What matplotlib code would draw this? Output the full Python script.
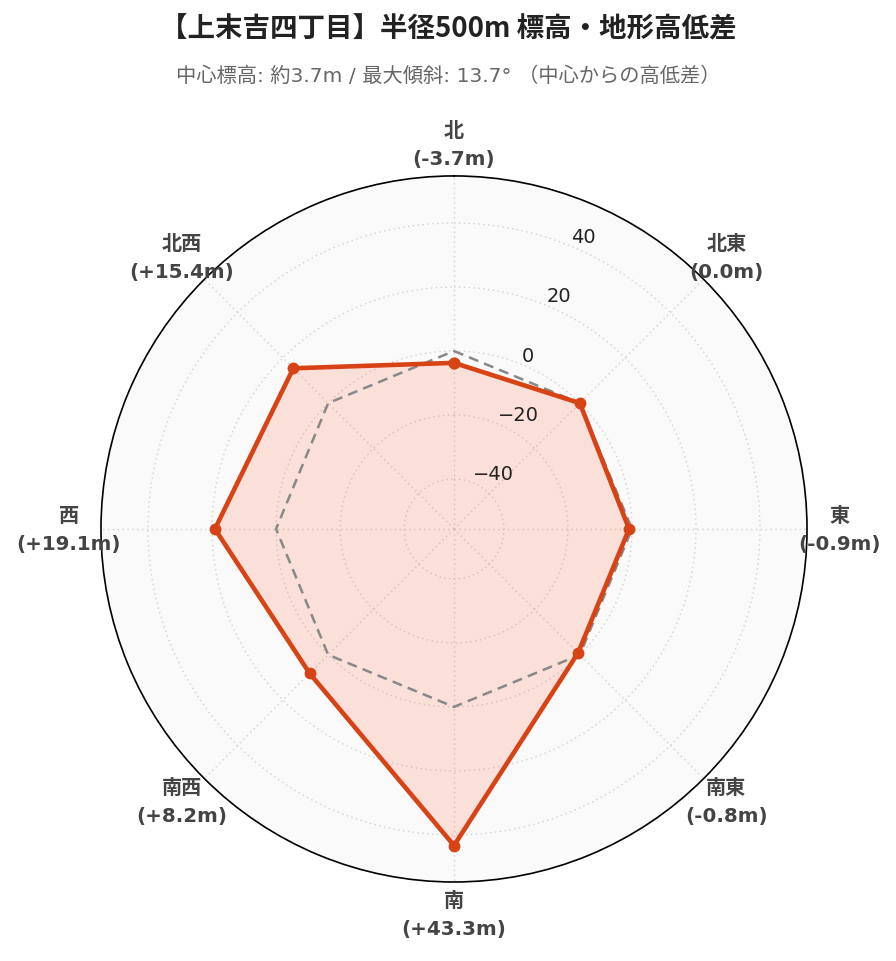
import numpy as np
import matplotlib
matplotlib.use("Agg")
import matplotlib.pyplot as plt

plt.rcParams['font.family'] = ['DejaVu Sans', 'Noto Sans CJK JP']

directions = ['北', '北東', '東', '南東', '南', '南西', '西', '北西']
diffs = [-3.7, 0.0, -0.9, -0.8, 43.3, 8.2, 19.1, 15.4]
baseline = [0, 0, 0, 0, 0, 0, 0, 0]
r_ticks = [-40, -20, 0, 20, 40]
r_range = (-55.6, 54.7)

title = '【上末吉四丁目】半径500m 標高・地形高低差'
subtitle = '中心標高: 約3.7m / 最大傾斜: 13.7° （中心からの高低差）'

line_color = '#d84315'
fill_color = '#ff501e'

fig = plt.figure(figsize=(8.96, 9.62), dpi=100)
ax = fig.add_axes([0.1127, 0.0821, 0.788, 0.734], projection='polar')
ax.set_theta_zero_location('N')
ax.set_theta_direction(-1)
ax.set_facecolor('#fafafa')
ax.set_ylim(*r_range)

theta = np.deg2rad(np.arange(len(directions)) * 45.0)
th_c = np.append(theta, theta[0])
d_c = np.append(diffs, diffs[0])
b_c = np.append(baseline, baseline[0])

ax.plot(th_c, b_c, color='#888888', lw=1.8, ls=(0, (4, 2.5)), zorder=3)
ax.fill(th_c, d_c, color=fill_color, alpha=0.15, lw=0, zorder=2)
ax.plot(th_c, d_c, color=line_color, lw=3.3, marker='o', ms=7.5, zorder=4)

ax.set_xticks(theta)
ax.set_xticklabels([])
ax.set_yticks(r_ticks)
ax.set_yticklabels([])
ax.grid(True, color='#d0d0d0', ls=(0, (1, 2.5)), lw=1)
ax.spines['polar'].set_color('black')
ax.spines['polar'].set_linewidth(1.2)

# radial tick labels
for v in r_ticks:
    lab = str(v).replace('-', '\u2212')
    ax.text(np.deg2rad(22.5), v, lab, ha='left', va='bottom', fontsize=14,
            color='#222222', zorder=5, family='DejaVu Sans')

# angular labels
rr = 385 / 353.0
dy = 14.5 / 706.0
for t, name, d in zip(theta, directions, diffs):
    s = f'({d:+.1f}m)' if d != 0 else '(0.0m)'
    x = 0.5 + 0.5 * rr * np.sin(t)
    y = 0.5 + 0.5 * rr * np.cos(t)
    ax.text(x, y + dy, name, transform=ax.transAxes, ha='center', va='center',
            fontsize=14.5, fontweight='bold', color='#444444',
            family='Noto Sans CJK JP')
    ax.text(x, y - dy, s, transform=ax.transAxes, ha='center', va='center',
            fontsize=14.3, fontweight='bold', color='#444444',
            family='DejaVu Sans')

fig.text(0.5, 1 - 29 / 962, title, ha='center', va='center', fontsize=19.8,
         fontweight='bold', color='#222222', family=['Noto Sans CJK JP', 'DejaVu Sans'])
fig.text(0.5, 1 - 76 / 962, subtitle, ha='center', va='center', fontsize=14.6,
         color='#666666', family=['DejaVu Sans', 'Noto Sans CJK JP'])

fig.savefig('out.png', dpi=100, facecolor='white')
